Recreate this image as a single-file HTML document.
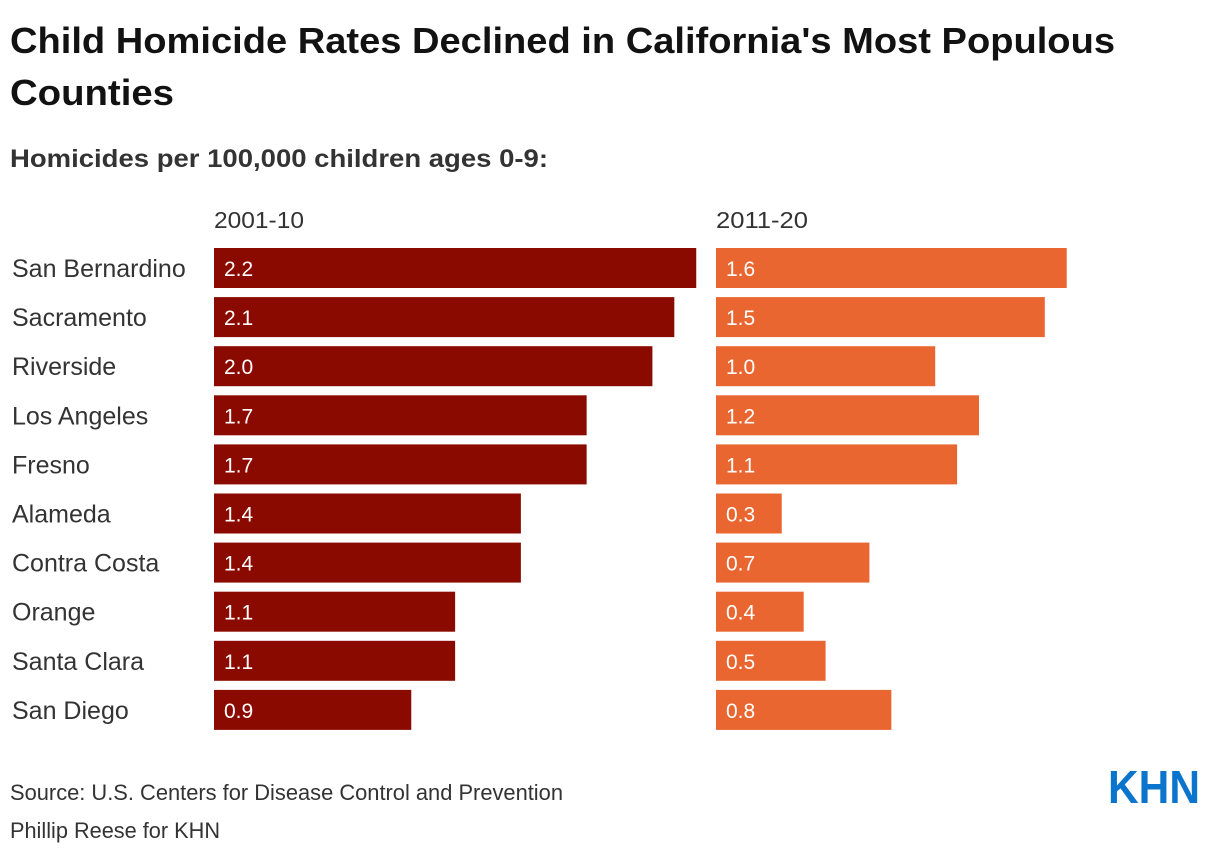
<!DOCTYPE html>
<html><head><meta charset="utf-8"><style>
html,body{margin:0;padding:0;background:#fff;}
svg{display:block;font-family:"Liberation Sans",sans-serif;}
</style></head><body>
<svg id="chart" width="1220" height="856" viewBox="0 0 1220 856">
<text x="10" y="53" font-size="36" font-weight="bold" fill="#121212" textLength="1105" lengthAdjust="spacingAndGlyphs">Child Homicide Rates Declined in California's Most Populous</text>
<text x="10" y="105" font-size="36" font-weight="bold" fill="#121212" textLength="164" lengthAdjust="spacingAndGlyphs">Counties</text>
<text x="10" y="167" font-size="25" font-weight="bold" fill="#333" textLength="538" lengthAdjust="spacingAndGlyphs">Homicides per 100,000 children ages 0-9:</text>
<text x="214" y="228" font-size="23" fill="#333" textLength="90" lengthAdjust="spacingAndGlyphs">2001-10</text>
<text x="716" y="228" font-size="23" fill="#333" textLength="92" lengthAdjust="spacingAndGlyphs">2011-20</text>
<g id="bars"></g>
<text x="10" y="800" font-size="22" fill="#333" textLength="553" lengthAdjust="spacingAndGlyphs">Source: U.S. Centers for Disease Control and Prevention</text>
<text x="10" y="838" font-size="22" fill="#333" textLength="210" lengthAdjust="spacingAndGlyphs">Phillip Reese for KHN</text>
<text x="1108" y="803" font-size="46" font-weight="bold" fill="#0b74cc" textLength="92" lengthAdjust="spacingAndGlyphs">KHN</text>
</svg>
<script>
const counties = ["San Bernardino","Sacramento","Riverside","Los Angeles","Fresno","Alameda","Contra Costa","Orange","Santa Clara","San Diego"];
const rates2001 = [2.2,2.1,2.0,1.7,1.7,1.4,1.4,1.1,1.1,0.9];
const rates2011 = [1.6,1.5,1.0,1.2,1.1,0.3,0.7,0.4,0.5,0.8];
const NS="http://www.w3.org/2000/svg";
const g=document.getElementById('bars');
const scale=v=>v*219.2;
const rowY=i=>248+i*49.1;
function mk(tag,attrs){const e=document.createElementNS(NS,tag);for(const k in attrs)e.setAttribute(k,attrs[k]);return e;}
counties.forEach((c,i)=>{
  const y=rowY(i);
  const lab=mk('text',{x:12,y:y+29,'font-size':25,fill:'#333'});
  lab.textContent=c;
  
  
  g.appendChild(lab);
  [[rates2001,214,'#8b0a00','bar-2001-10'],[rates2011,716,'#ea6631','bar-2011-20']].forEach(([arr,x0,col,name])=>{
    const r=mk('rect',{x:x0,y:y,width:scale(arr[i]),height:40,fill:col});
    
    
    g.appendChild(r);
    const t=mk('text',{x:x0+10,y:y+28,'font-size':21,fill:'#fff'});
    t.textContent=arr[i].toFixed(1);
    
    
    g.appendChild(t);
  });
});
</script>
</body></html>
